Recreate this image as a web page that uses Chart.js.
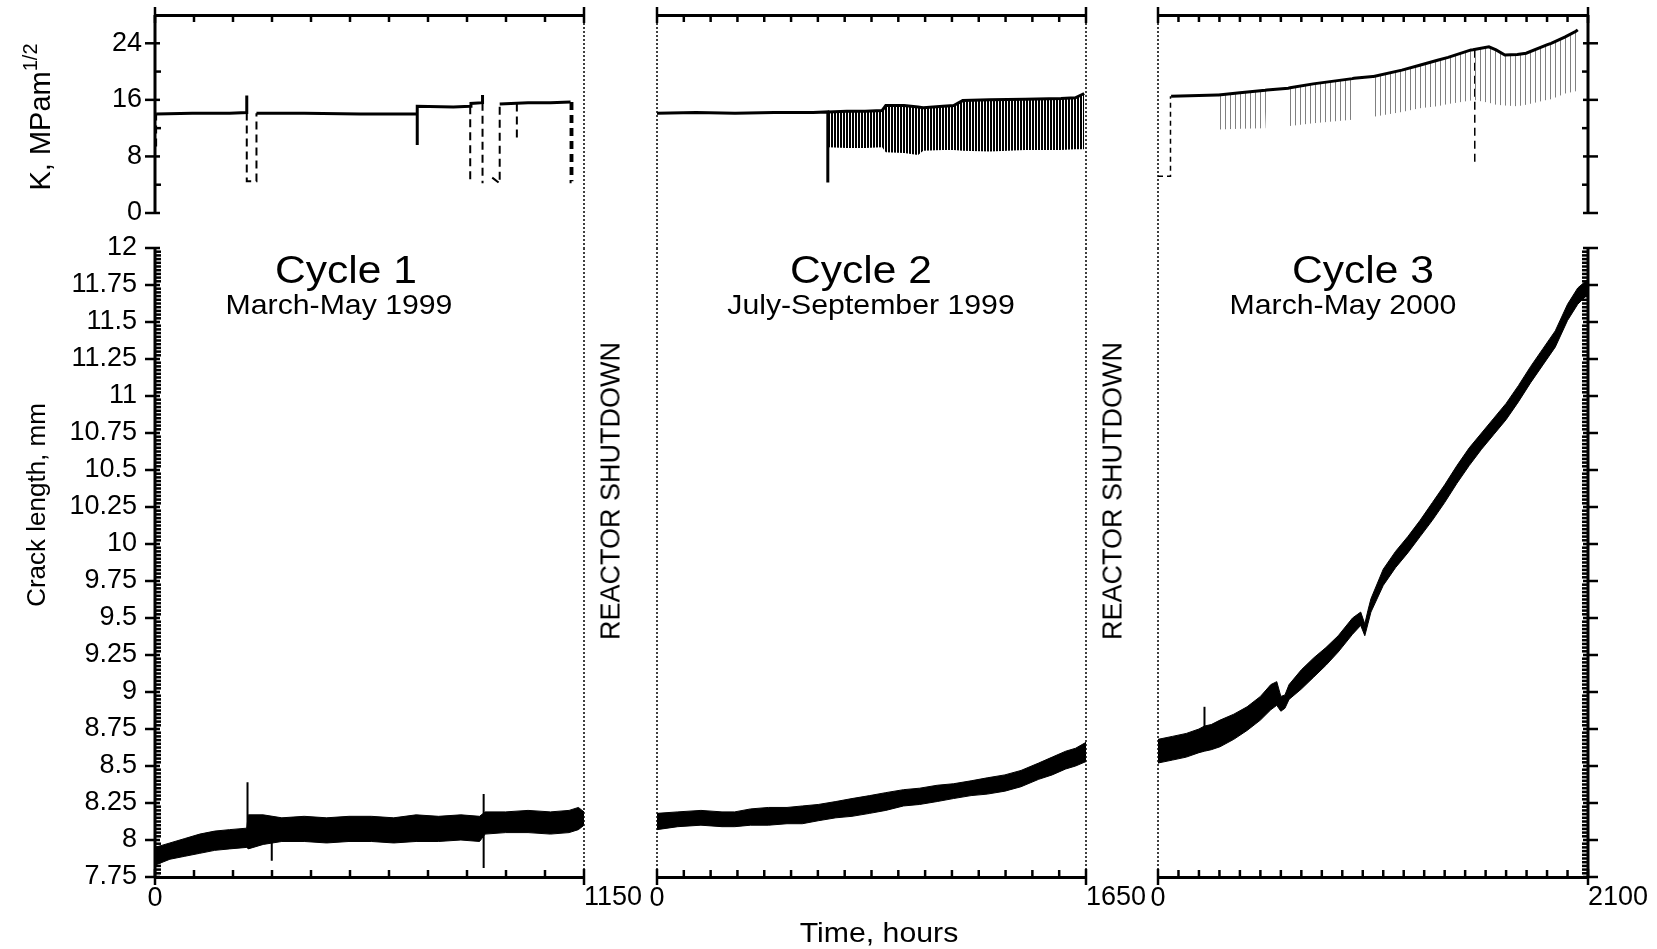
<!DOCTYPE html>
<html>
<head>
<meta charset="utf-8">
<script src="https://cdn.jsdelivr.net/npm/chart.js@4.4.1/dist/chart.umd.min.js"></script>
<style>
  body { margin: 0; background: #fff; width: 1657px; height: 949px; overflow: hidden; position: relative;
         font-family: 'Liberation Sans', Arial, Helvetica, sans-serif; color: #000; }
  canvas { position: absolute; left: 0; top: 0; }
  .t { position: absolute; white-space: nowrap; transform: translate(-50%, -50%); line-height: 1; }
  .rot { transform: translate(-50%, -50%) rotate(-90deg); }
  .title { transform: translate(-50%, -50%) scaleX(1.12); }
  .sub { transform: translate(-50%, -50%) scaleX(1.08); }
  sup { font-size: 20px; vertical-align: 13px; }
</style>
</head>
<body>
<canvas id="k1" width="1657" height="949"></canvas>
<canvas id="k2" width="1657" height="949"></canvas>
<canvas id="k3" width="1657" height="949"></canvas>
<canvas id="c1" width="1657" height="949"></canvas>
<canvas id="c2" width="1657" height="949"></canvas>
<canvas id="c3" width="1657" height="949"></canvas>

<div class="t rot" style="left:37px;top:117px;font-size:29px;">K, MPam<sup>1/2</sup></div>
<div class="t rot" style="left:36px;top:505px;font-size:26px;">Crack length, mm</div>
<div class="t title" style="left:346px;top:270px;font-size:38px;">Cycle 1</div>
<div class="t sub" style="left:339px;top:305px;font-size:28px;">March-May 1999</div>
<div class="t title" style="left:861px;top:270px;font-size:38px;">Cycle 2</div>
<div class="t sub" style="left:871px;top:305px;font-size:28px;">July-September 1999</div>
<div class="t title" style="left:1363px;top:270px;font-size:38px;">Cycle 3</div>
<div class="t sub" style="left:1343px;top:305px;font-size:28px;">March-May 2000</div>
<div class="t rot" style="left:611px;top:491px;font-size:27px;">REACTOR SHUTDOWN</div>
<div class="t rot" style="left:1113px;top:491px;font-size:27px;">REACTOR SHUTDOWN</div>
<div class="t sub" style="left:879px;top:933px;font-size:28px;">Time, hours</div>

<script>
// axes
const cycleEnd = [1150, 1650, 2100];
const cycleTickCount = [11, 16, 21];
const kMajorTicks = [0, 8, 16, 24];
const crackMajorTicks = [7.75, 8, 8.25, 8.5, 8.75, 9, 9.25, 9.5, 9.75, 10, 10.25, 10.5, 10.75, 11, 11.25, 11.5, 11.75, 12];

// cycle 1 - stress intensity (null = break in the trace)
const k1SolidTime = [3, 100, 200, 246, 246, 246, 272, 400, 550, 703, 703, 703, 703, 800, 845, 847, 878, 878, 878, 924, 1000, 1060, 1114];
const k1SolidK    = [14.0, 14.1, 14.1, 14.2, 16.6, null, 14.1, 14.1, 14.0, 14.0, null, 9.6, 15.1, 15.0, 15.1, 15.5, 15.6, 16.7, null, 15.4, 15.6, 15.6, 15.7];
const k1DashTime  = [3, 3, 3, 246, 246, 272, 272, 272, 845, 845, 845, 878, 878, 878, 904, 924, 924, 924, 970, 970, 970, 1114, 1114, 1114, 1119, 1119];
const k1DashK     = [9.4, 14.0, null, 14.2, 4.5, 4.5, 14.1, null, 15.1, 4.2, null, 15.6, 4.2, null, 5.0, 4.2, 15.4, null, 15.5, 10.1, null, 15.7, 4.2, null, 15.7, 4.5];

// cycle 2 - stress intensity
const k2LineTime  = [0, 150, 300, 450, 600, 657, 657];
const k2LineK     = [14.1, 14.2, 14.1, 14.2, 14.2, 14.3, 4.3];
const k2BandTime  = [657, 730, 800, 866, 880, 950, 1004, 1024, 1100, 1141, 1176, 1280, 1416, 1554, 1609, 1643];
const k2BandUpper = [14.3, 14.4, 14.4, 14.5, 15.2, 15.2, 15.0, 14.9, 15.1, 15.2, 15.9, 16.0, 16.1, 16.2, 16.3, 16.9];
const k2BandLower = [9.3, 9.2, 9.2, 9.3, 8.6, 8.5, 8.2, 8.8, 8.9, 8.9, 8.8, 8.7, 8.9, 8.9, 9.0, 9.0];

// cycle 3 - stress intensity
const k3Time  = [64, 290, 296, 400, 524, 532, 636, 645, 758, 949, 957, 1049, 1053, 1191, 1278, 1365, 1417, 1529, 1538, 1616, 1651, 1694, 1755, 1798, 1902, 1920, 1989, 2041, 2050];
const k3Upper = [16.5, 16.7, 16.7, 17.0, 17.35, 17.4, 17.65, 17.7, 18.26, 19.0, 19.06, 19.3, 19.3, 20.2, 20.9, 21.6, 22.0, 23.06, 23.1, 23.5, 23.06, 22.35, 22.4, 22.6, 23.8, 24.0, 24.9, 25.7, 25.9];
const k3Lower = [16.5, 16.7, 11.8, 11.9, 12.0, 17.4, 17.65, 12.3, 12.7, 13.2, 19.06, 19.3, 13.6, 14.3, 14.8, 15.1, 15.4, 15.9, 16.0, 15.6, 15.3, 15.2, 15.1, 15.3, 16.0, 16.1, 16.9, 17.2, 25.9];
const k3StartTime = [0, 61, 61];
const k3StartK    = [5.2, 5.2, 16.5];
const k3DropTime  = [1547, 1547];
const k3DropK     = [23.1, 7.1];

// cycle 1 - crack length band
const c1Time  = [0, 40, 80, 120, 160, 200, 246, 250, 290, 340, 400, 460, 520, 580, 640, 700, 760, 820, 870, 885, 940, 1000, 1060, 1110, 1135, 1150];
const c1Upper = [7.95, 7.98, 8.01, 8.04, 8.06, 8.07, 8.08, 8.17, 8.17, 8.15, 8.16, 8.15, 8.16, 8.16, 8.15, 8.17, 8.16, 8.17, 8.16, 8.19, 8.19, 8.20, 8.19, 8.20, 8.22, 8.19];
const c1Lower = [7.83, 7.87, 7.89, 7.91, 7.93, 7.94, 7.95, 7.94, 7.97, 7.99, 7.99, 7.98, 7.99, 7.99, 7.98, 7.99, 7.99, 8.00, 7.99, 8.04, 8.05, 8.05, 8.04, 8.05, 8.07, 8.10];
const c1SpikeTime = [248, 248, 248, 313, 313, 313, 881, 881];
const c1SpikeLen  = [8.05, 8.39, null, 8.00, 7.86, null, 8.31, 7.81];

// cycle 2 - crack length band
const c2Time  = [0, 80, 169, 250, 299, 360, 429, 500, 559, 620, 688, 750, 818, 880, 948, 1010, 1078, 1140, 1208, 1270, 1338, 1400, 1468, 1520, 1572, 1610, 1650];
const c2Upper = [8.18, 8.19, 8.20, 8.19, 8.19, 8.21, 8.22, 8.22, 8.23, 8.24, 8.26, 8.28, 8.30, 8.32, 8.34, 8.35, 8.37, 8.38, 8.40, 8.42, 8.44, 8.47, 8.52, 8.56, 8.60, 8.62, 8.66];
const c2Lower = [8.07, 8.09, 8.10, 8.09, 8.09, 8.10, 8.10, 8.11, 8.11, 8.13, 8.15, 8.16, 8.18, 8.20, 8.23, 8.24, 8.26, 8.28, 8.30, 8.31, 8.33, 8.36, 8.41, 8.44, 8.48, 8.50, 8.53];

// cycle 3 - crack length band
const c3Time  = [0, 70, 138, 200, 227, 260, 303, 370, 435, 500, 551, 580, 600, 620, 640, 700, 760, 820, 880, 950, 990, 1010, 1025, 1040, 1100, 1160, 1220, 1280, 1340, 1400, 1460, 1520, 1580, 1640, 1700, 1760, 1820, 1880, 1940, 2000, 2050, 2100];
const c3Upper = [8.68, 8.70, 8.72, 8.75, 8.77, 8.78, 8.81, 8.85, 8.90, 8.97, 9.05, 9.07, 8.97, 8.98, 9.05, 9.15, 9.23, 9.30, 9.38, 9.50, 9.54, 9.46, 9.55, 9.63, 9.83, 9.95, 10.05, 10.16, 10.28, 10.40, 10.53, 10.65, 10.75, 10.85, 10.95, 11.07, 11.20, 11.32, 11.44, 11.62, 11.73, 11.79];
const c3Lower = [8.52, 8.54, 8.56, 8.59, 8.60, 8.61, 8.63, 8.68, 8.74, 8.81, 8.88, 8.91, 8.87, 8.89, 8.95, 9.02, 9.10, 9.18, 9.27, 9.39, 9.45, 9.38, 9.46, 9.54, 9.72, 9.84, 9.94, 10.05, 10.16, 10.28, 10.41, 10.53, 10.64, 10.74, 10.84, 10.96, 11.09, 11.21, 11.33, 11.51, 11.62, 11.69];
const c3SpikeTime = [227, 227];
const c3SpikeLen  = [8.70, 8.90];

// layout
const FONT = "'Liberation Sans', Arial, Helvetica, sans-serif";
const W = 1657, H = 949;
const plotLeft = [155, 657, 1158];
const plotRight = [584, 1086, 1588];
const kTop = 15, kBottom = 213, cTop = 248, cBottom = 877;
const xLabelHeight = 72;

Chart.defaults.font.family = FONT;
Chart.defaults.color = '#000';

// tick values
const kTickValues = [];
kMajorTicks.forEach((v, j) => { if (j) kTickValues.push(v - 4); kTickValues.push(v); });
const crackTickValues = [];
crackMajorTicks.forEach((v, j) => {
    if (j) {
        for (let k = 1; k < 10; k++) crackTickValues.push(Math.round((crackMajorTicks[j - 1] + k * 0.025) * 1000) / 1000);
    }
    crackTickValues.push(v);
});

function evenTicks(max, n) {
    const out = [];
    for (let k = 0; k <= n; k++) out.push({ value: max * k / n });
    return out;
}

function pts(t, v) {
    return t.map((x, j) => ({ x: x, y: v[j] }));
}

function line(t, v, extra) {
    return Object.assign({
        data: pts(t, v),
        borderColor: '#000',
        backgroundColor: '#000',
        borderWidth: 2,
        pointRadius: 0,
        fill: false,
        tension: 0,
        spanGaps: false
    }, extra || {});
}

// vertical hatch used for the cycling load
function stripes(color, period, width) {
    const c = document.createElement('canvas');
    c.width = period; c.height = 8;
    const g = c.getContext('2d');
    g.fillStyle = color;
    g.fillRect(0, 0, width, 8);
    return g.createPattern(c, 'repeat');
}

// side lines and tick marks (ticks taken from the scales)
const framePlugin = {
    id: 'frame',
    afterDatasetsDraw(chart, args, o) {
        const ctx = chart.ctx, a = chart.chartArea;
        ctx.save();
        ctx.strokeStyle = '#000';
        ['left', 'right'].forEach(side => {
            const style = o[side];
            if (!style) return;
            const x = a[side];
            ctx.beginPath();
            if (style === 'dotted') {
                ctx.setLineDash([2, 2]);
                ctx.lineWidth = 1.5;
                ctx.moveTo(x, a.top);
                ctx.lineTo(x, a.bottom + (o.extend || 0));
            } else {
                ctx.setLineDash([]);
                ctx.lineWidth = 3;
                ctx.moveTo(x, a.top);
                ctx.lineTo(x, a.bottom);
            }
            ctx.stroke();
        });
        ctx.setLineDash([]);
        ctx.lineWidth = 2.5;
        (o.yTicks || []).forEach(side => {
            const sc = chart.scales.y, dir = side === 'left' ? 1 : -1, x = a[side];
            sc.ticks.forEach(t => {
                const y = sc.getPixelForValue(t.value);
                const major = t.label !== '';
                const inLen = major ? 5 : 6, outLen = major ? 10 : 0;
                ctx.beginPath();
                ctx.moveTo(x - dir * outLen, y);
                ctx.lineTo(x + dir * inLen, y);
                ctx.stroke();
            });
        });
        if (o.xEdge) {
            const sc = chart.scales.x, y = a[o.xEdge], dir = o.xEdge === 'bottom' ? -1 : 1;
            const n = sc.ticks.length;
            sc.ticks.forEach((t, j) => {
                const x = sc.getPixelForValue(t.value);
                const end = j === 0 || j === n - 1;
                const inLen = end ? 8 : 7, outLen = end ? 8 : 0;
                ctx.beginPath();
                ctx.moveTo(x, y - dir * outLen);
                ctx.lineTo(x, y + dir * inLen);
                ctx.stroke();
            });
        }
        ctx.restore();
    }
};

function noPad(s) {
    s.paddingLeft = 0; s.paddingRight = 0; s.paddingTop = 0; s.paddingBottom = 0;
}

function baseOptions(padding, scales, frame) {
    return {
        responsive: false,
        animation: false,
        events: [],
        layout: { padding: padding },
        plugins: { legend: { display: false }, tooltip: { enabled: false }, frame: frame },
        scales: scales
    };
}

// upper panels: stress intensity
function kChart(id, i, datasets, frame) {
    const showY = i === 0;
    const scales = {
        x: {
            type: 'linear', position: 'top', min: 0, max: cycleEnd[i],
            afterBuildTicks: s => { s.ticks = evenTicks(cycleEnd[i], cycleTickCount[i]); },
            ticks: { display: false },
            grid: { display: false, drawTicks: false },
            border: { display: true, width: 3, color: '#000' },
            afterFit: s => { s.height = 0; noPad(s); }
        },
        y: {
            type: 'linear', min: 0, max: 28, display: showY,
            afterBuildTicks: s => { s.ticks = kTickValues.map(v => ({ value: v })); },
            ticks: {
                autoSkip: false, padding: 13, color: '#000', font: { size: 27 },
                callback: v => kMajorTicks.includes(v) ? String(v) : ''
            },
            grid: { display: false, drawTicks: false },
            border: { display: false },
            afterFit: s => { if (showY) s.width = 155; noPad(s); }
        }
    };
    const padding = { left: showY ? 0 : plotLeft[i], right: W - plotRight[i], top: kTop, bottom: H - kBottom };
    return new Chart(document.getElementById(id), {
        type: 'line',
        data: { datasets: datasets },
        options: baseOptions(padding, scales, frame),
        plugins: [framePlugin]
    });
}

// lower panels: crack length
function crackChart(id, i, datasets, frame) {
    const showY = i === 0;
    const scales = {
        x: {
            type: 'linear', position: 'bottom', min: 0, max: cycleEnd[i], weight: 0,
            afterBuildTicks: s => { s.ticks = evenTicks(cycleEnd[i], cycleTickCount[i]); },
            ticks: {
                autoSkip: false, maxRotation: 0, padding: 5, color: '#000', font: { size: 27 },
                callback: (v, idx) => idx === 0 ? '0' : ''
            },
            grid: { display: false, drawTicks: false },
            border: { display: true, width: 3, color: '#000' },
            afterFit: s => { s.height = xLabelHeight; noPad(s); }
        },
        // end-of-cycle label, written from the tick to the right
        x2: {
            type: 'linear', position: 'bottom', min: 0, max: cycleEnd[i], weight: 1,
            afterBuildTicks: s => { s.ticks = [{ value: cycleEnd[i] }]; },
            ticks: {
                autoSkip: false, maxRotation: 0, align: 'start', mirror: true, padding: 35,
                color: '#000', font: { size: 27 },
                callback: v => String(v)
            },
            grid: { display: false, drawTicks: false },
            border: { display: false },
            afterFit: s => { s.height = 0; noPad(s); }
        },
        y: {
            type: 'linear', min: 7.75, max: 12, display: showY,
            afterBuildTicks: s => { s.ticks = crackTickValues.map(v => ({ value: v })); },
            ticks: {
                autoSkip: false, padding: 18, color: '#000', font: { size: 27 },
                callback: v => crackMajorTicks.includes(v) ? String(v) : ''
            },
            grid: { display: false, drawTicks: false },
            border: { display: false },
            afterFit: s => { if (showY) s.width = 155; noPad(s); }
        }
    };
    const padding = { left: showY ? 0 : plotLeft[i], right: W - plotRight[i], top: cTop, bottom: H - cBottom - xLabelHeight };
    return new Chart(document.getElementById(id), {
        type: 'line',
        data: { datasets: datasets },
        options: baseOptions(padding, scales, frame),
        plugins: [framePlugin]
    });
}

function band(t, up, low) {
    return [
        line(t, up, { borderWidth: 1, fill: '+1' }),
        line(t, low, { borderWidth: 1 })
    ];
}

kChart('k1', 0, [
    line(k1SolidTime, k1SolidK, { borderWidth: 3 }),
    line(k1DashTime, k1DashK, { borderWidth: 2, borderDash: [8, 5] })
], { left: 'solid', right: 'dotted', extend: cTop - kBottom, yTicks: ['left'], xEdge: 'top' });

kChart('k2', 1, [
    line(k2LineTime, k2LineK, { borderWidth: 3 }),
    line(k2BandTime, k2BandUpper, { borderWidth: 3, fill: '+1', backgroundColor: stripes('#000', 3, 2) }),
    line(k2BandTime, k2BandLower, { borderWidth: 0 })
], { left: 'dotted', right: 'dotted', extend: cTop - kBottom, xEdge: 'top' });

kChart('k3', 2, [
    line(k3Time, k3Upper, { borderWidth: 3, fill: '+1', backgroundColor: stripes('#808080', 5, 1) }),
    line(k3Time, k3Lower, { borderWidth: 0 }),
    line(k3StartTime, k3StartK, { borderWidth: 1.5, borderDash: [5, 4] }),
    line(k3DropTime, k3DropK, { borderWidth: 1.5, borderDash: [8, 5] })
], { left: 'dotted', right: 'solid', extend: cTop - kBottom, yTicks: ['right'], xEdge: 'top' });

crackChart('c1', 0, band(c1Time, c1Upper, c1Lower).concat([
    line(c1SpikeTime, c1SpikeLen, { borderWidth: 2 })
]), { left: 'solid', right: 'dotted', yTicks: ['left'], xEdge: 'bottom' });

crackChart('c2', 1, band(c2Time, c2Upper, c2Lower),
    { left: 'dotted', right: 'dotted', xEdge: 'bottom' });

crackChart('c3', 2, band(c3Time, c3Upper, c3Lower).concat([
    line(c3SpikeTime, c3SpikeLen, { borderWidth: 2 })
]), { left: 'dotted', right: 'solid', yTicks: ['right'], xEdge: 'bottom' });
</script>
</body>
</html>
